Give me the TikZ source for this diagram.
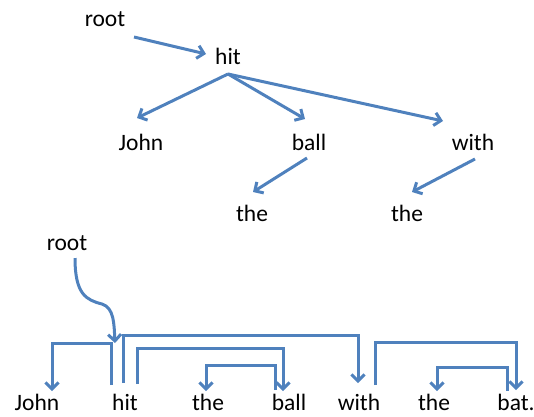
\documentclass[tikz,border=0pt]{standalone}
\usepackage{fontspec}
\setmainfont{Carlito}
\usepackage{tikz}
\usetikzlibrary{arrows.meta}
\definecolor{depblue}{RGB}{79,129,189}

\begin{document}
\begin{tikzpicture}[x=1pt,y=-1pt,
        word/.style={font=\fontsize{23.5}{28}\selectfont,anchor=base,inner sep=0pt},
        dep/.style={draw=depblue,line width=3pt,-{Straight Barb[length=6.5pt,width=13pt]}}]
        \useasboundingbox (0,0) rectangle (534,416);
        % tree
        \node[word] (root) at (105,26) {root};
        \node[word] (hit) at (228,64) {hit};
        \node[word] (john) at (141,150) {John};
        \node[word] (ball) at (309,150) {ball};
        \node[word] (with) at (473,150) {with};
        \node[word] (theA) at (252,221) {the};
        \node[word] (theB) at (407,221) {the};
        \draw[dep] ([shift={(29,11)}]root.base)--([shift={(-22,-10)}]hit.base);
        \draw[dep] ([shift={(0,10)}]hit.base)--([shift={(-4,-32)}]john.base);
        \draw[dep] ([shift={(0,10)}]hit.base)--([shift={(-4,-31)}]ball.base);
        \draw[dep] ([shift={(0,10)}]hit.base)--([shift={(-30,-29)}]with.base);
        \draw[dep] ([shift={(-2,8)}]ball.base)--([shift={(1,-29)}]theA.base);
        \draw[dep] ([shift={(2,9)}]with.base)--([shift={(5,-29)}]theB.base);
        % arcs
        \node[word] (rootB) at (67,250) {root};
        \node[word] (w1) at (37,410) {John};
        \node[word] (w2) at (125,410) {hit};
        \node[word] (w3) at (208,410) {the};
        \node[word] (w4) at (289,410) {ball};
        \node[word] (w5) at (359,410) {with};
        \node[word] (w6) at (434,410) {the};
        \node[word] (w7) at (516,410) {bat.};
        \draw[dep] ([shift={(8,8)}]rootB.base) .. controls +(0,36) and +(-16,-4) .. +(27,46)
            .. controls +(12,4) and +(-1,-20) .. ([shift={(-10,-67)}]w2.base);
        \draw[dep] ([shift={(-14,-25)}]w2.base)--++(0,-42)-|([shift={(15,-19)}]w1.base);
        \draw[dep] ([shift={(-2,-27)}]w2.base)--++(0,-48)-|([shift={(-1,-27)}]w5.base);
        \draw[dep] ([shift={(12,-26)}]w2.base)--++(0,-36)-|([shift={(-6,-19)}]w4.base);
        \draw[dep] ([shift={(-14,-20)}]w4.base)--++(0,-25)-|([shift={(-2,-19)}]w3.base);
        \draw[dep] ([shift={(16,-25)}]w5.base)--++(0,-43)-|([shift={(0,-20)}]w7.base);
        \draw[dep] ([shift={(-9,-19)}]w7.base)--++(0,-24)-|([shift={(3,-19)}]w6.base);
    \end{tikzpicture}
\end{document}
